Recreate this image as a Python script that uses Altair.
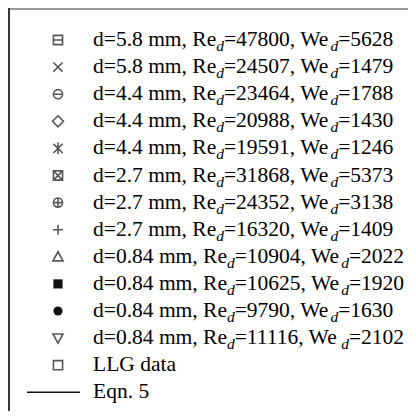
import altair as alt
import pandas as pd

diam = ["5.8", "5.8", "4.4", "4.4", "4.4", "2.7", "2.7", "2.7", "0.84", "0.84", "0.84", "0.84"]
re_d = [47800, 24507, 23464, 20988, 19591, 31868, 24352, 16320, 10904, 10625, 9790, 11116]
we_d = [5628, 1479, 1788, 1430, 1246, 5373, 3138, 1409, 2022, 1920, 1630, 2102]
extra_labels = ["LLG data", "Eqn. 5"]

# symbol shapes (unit paths in [-1,1]); True = filled
CIRC = "M-1,0A1,1 0 1,0 1,0A1,1 0 1,0 -1,0Z"
SQ = "M-1,-1H1V1H-1Z"
shapes = [
    SQ + "M-1,0H1",                         # boxed minus
    "M-1,-1L1,1M-1,1L1,-1",                 # cross
    CIRC + "M-1,0H1",                       # circled minus
    "M0,-1.2L1.2,0L0,1.2L-1.2,0Z",          # diamond
    "M-1,-1L1,1M-1,1L1,-1M0,-1.3V1.3",      # asterisk
    SQ + "M-1,-1L1,1M-1,1L1,-1",            # boxed x
    CIRC + "M-1,0H1M0,-1V1",                # circled plus
    "M-1.1,0H1.1M0,-1.1V1.1",               # plus
    "M0,-1.1L1.1,0.9L-1.1,0.9Z",            # triangle up
    "square",                               # filled square
    "circle",                               # filled circle
    "M0,1.1L1.1,-0.9L-1.1,-0.9Z",           # triangle down
    SQ,                                     # open square (LLG)
]
filled = [False] * 9 + [True, True] + [False, False]

# ---- layout ----
W, H = 400, 403
FONT = "Liberation Serif"
FS, SFS = 21.5, 15.5
ROW0, ROWSTEP = 32, 27.1
X_SYM, X_TXT = 50, 85
LINE_X0, LINE_X1 = 19, 72

# Times / Liberation Serif advance widths (per 1000 em)
TW = {'d': 500, '=': 564, '.': 250, ' ': 250, 'm': 778, ',': 250, 'R': 667,
      'e': 444, 'W': 944}
for c in "0123456789":
    TW[c] = 500


def tw(s, size):
    return sum(TW.get(c, 500) for c in s) * size / 1000.0


rows = []
for i, (d, r, w) in enumerate(zip(diam, re_d, we_d)):
    segs = [(f"d={d} mm, Re", "main"), ("d", "sub"), (f"={r}, We", "main"),
            ("d", "sub"), (f"={w}", "main")]
    x = X_TXT
    for s, k in segs:
        rows.append({"row": i, "x": x, "text": s, "kind": k})
        x += tw(s, FS if k == "main" else SFS)
for j, lab in enumerate(extra_labels):
    rows.append({"row": len(diam) + j, "x": X_TXT, "text": lab, "kind": "main"})
text_df = pd.DataFrame(rows)

sym_df = pd.DataFrame({"row": list(range(len(shapes))), "shape": shapes, "filled": filled})
line_df = pd.DataFrame({"row": [len(diam) + 1]})

yscale = alt.Scale(domain=[-ROW0 / ROWSTEP, (H - ROW0) / ROWSTEP], reverse=True)
xscale = alt.Scale(domain=[0, W])
Y = alt.Y("row:Q", scale=yscale, axis=None)
X = alt.X("x:Q", scale=xscale, axis=None)

main_txt = alt.Chart(text_df).transform_filter(alt.datum.kind == "main").mark_text(
    font=FONT, fontSize=FS, align="left", baseline="middle", color="#000"
).encode(x=X, y=Y, text="text:N")

sub_txt = alt.Chart(text_df).transform_filter(alt.datum.kind == "sub").mark_text(
    font=FONT, fontSize=SFS, fontStyle="italic", align="left",
    baseline="middle", dy=6, color="#000"
).encode(x=X, y=Y, text="text:N")

open_sym = alt.Chart(sym_df).transform_filter("!datum.filled").mark_point(
    filled=False, color="#111", strokeWidth=1.6, size=84
).encode(x=alt.value(X_SYM), y=Y, shape=alt.Shape("shape:N", scale=None))

fill_sym = alt.Chart(sym_df).transform_filter("datum.filled").mark_point(
    filled=True, color="#111", opacity=1, size=84
).encode(x=alt.value(X_SYM), y=Y, shape=alt.Shape("shape:N", scale=None))

eqn_line = alt.Chart(line_df).mark_rule(color="#111", strokeWidth=1.4).encode(
    x=alt.value(LINE_X0), x2=alt.value(LINE_X1), y=Y
)

left_border = alt.Chart(line_df).mark_rule(color="#222", strokeWidth=1.8).encode(
    x=alt.value(1), y=alt.value(0), y2=alt.value(H)
)
top_border = alt.Chart(line_df).mark_rule(color="#333", strokeWidth=1.2).encode(
    x=alt.value(0), x2=alt.value(W), y=alt.value(1)
)

chart = alt.layer(
    left_border, top_border, eqn_line, open_sym, fill_sym, main_txt, sub_txt
).properties(
    width=W, height=H, padding=0, autosize="none", background="white"
).configure_view(stroke=None)

chart.save("out.html", embed_options={"renderer": "svg", "actions": False})
